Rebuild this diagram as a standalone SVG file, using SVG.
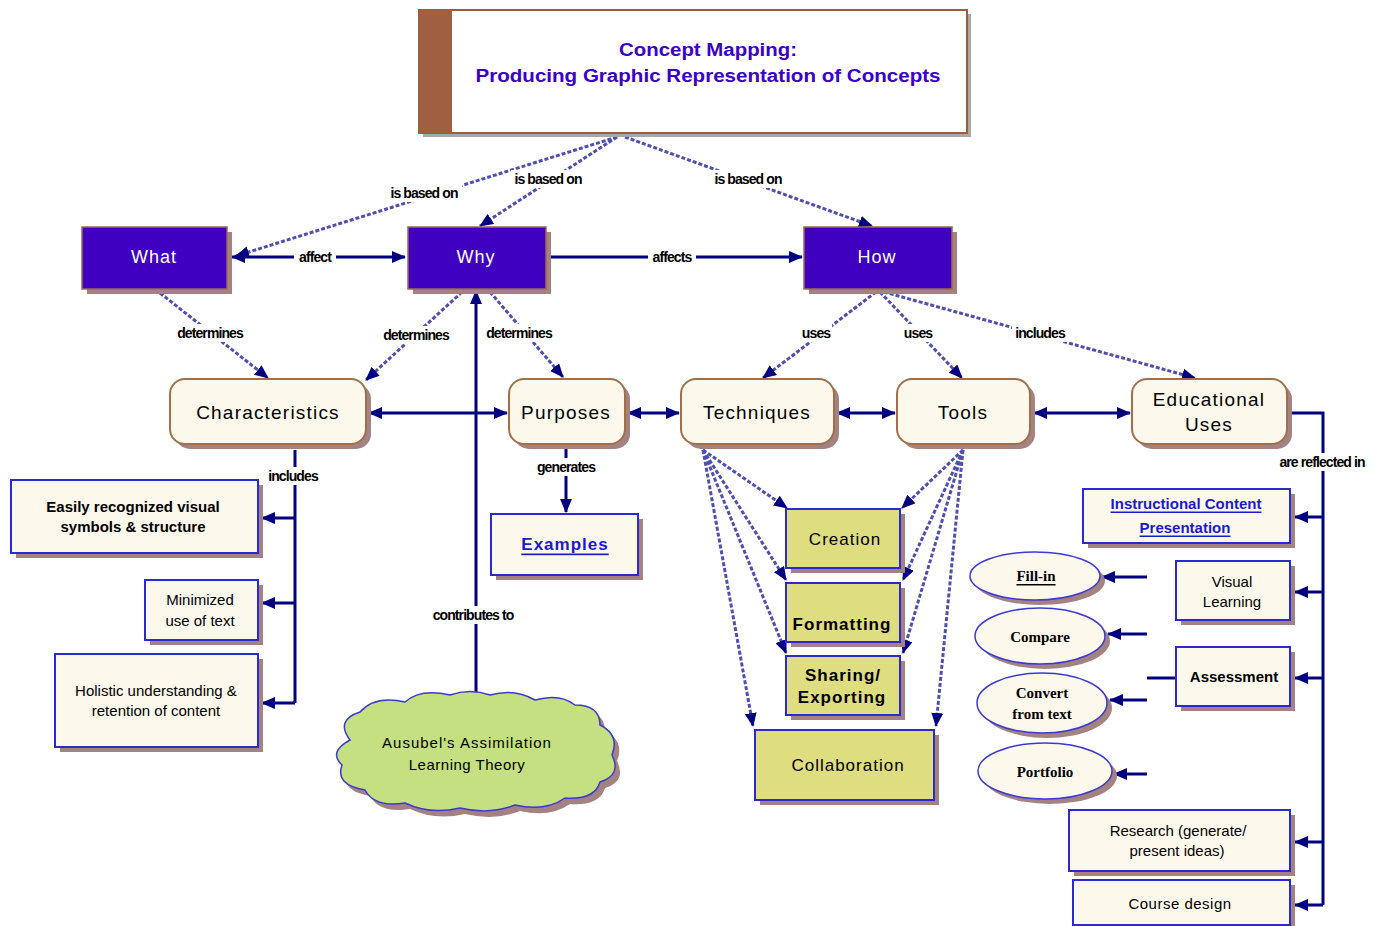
<svg xmlns="http://www.w3.org/2000/svg" width="1385" height="926" viewBox="0 0 1385 926">
  <style>
    .lbl { font-family: "Liberation Sans", Arial, sans-serif; font-size: 14px; font-weight: bold; fill: #000; text-anchor: middle; dominant-baseline: central; letter-spacing: -0.9px; }
    .lblbg { fill: #fff; }
    .dash { fill: none; stroke: #4f4fb0; stroke-width: 3; stroke-dasharray: 4 2; marker-end: url(#arr); }
    .solid { fill: none; stroke: #000080; stroke-width: 3; }
    .end { marker-end: url(#arr); }
    .both { marker-start: url(#arr); marker-end: url(#arr); }
    .shadow { fill: #a48282; }
    .purple { fill: #4000c0; stroke: #9a6a50; stroke-width: 1.5; }
    .wtxt { font-family: "Liberation Sans", Arial, sans-serif; font-size: 18px; fill: #fff; text-anchor: middle; dominant-baseline: central; letter-spacing: 1px; }
    .round { fill: #fdf8ec; stroke: #a0704a; stroke-width: 2; }
    .cream { fill: #fdf8ec; stroke: #2a2ad0; stroke-width: 2; }
    .khaki { fill: #dedd80; stroke: #2a2ad0; stroke-width: 2; }
    .t19 { font-family: "Liberation Sans", Arial, sans-serif; font-size: 19px; fill: #000; text-anchor: middle; dominant-baseline: central; letter-spacing: 1.2px; }
    .t17 { font-family: "Liberation Sans", Arial, sans-serif; font-size: 17px; fill: #000; text-anchor: middle; dominant-baseline: central; letter-spacing: 1px; }
    .t15 { font-family: "Liberation Sans", Arial, sans-serif; font-size: 15px; fill: #000; text-anchor: middle; dominant-baseline: central; }
    .heavy { font-weight: bold; }
    .link { fill: #1a1acc; text-decoration: underline; font-weight: bold; }
    .serif { font-family: "Liberation Serif", "Times New Roman", serif; font-size: 15px; font-weight: bold; fill: #000; text-anchor: middle; dominant-baseline: central; }
    .oval { fill: #fdf8ec; stroke: #3a3ad0; stroke-width: 1.5; }
    .title { font-family: "Liberation Sans", Arial, sans-serif; font-size: 18px; font-weight: bold; fill: #3a00c8; text-anchor: middle; dominant-baseline: central; }
  </style>
  <defs>
    <marker id="arr" viewBox="0 0 14 12" markerWidth="14" markerHeight="12" refX="13" refY="6" orient="auto-start-reverse" markerUnits="userSpaceOnUse">
      <path d="M0,0 L14,6 L0,12 z" fill="#000080"/>
    </marker>
    <path id="cloud" d="M350,740 Q335,720 360,712 Q375,695 405,702 Q420,688 450,695 Q470,688 490,695 Q515,688 535,700 Q560,693 575,705 Q600,705 600,725 Q620,735 612,755 Q622,775 600,782 Q595,800 565,798 Q545,812 515,805 Q490,815 460,808 Q430,815 405,803 Q375,808 365,790 Q335,785 342,765 Q328,752 350,740 Z"/>
  </defs>
  <rect width="1385" height="926" fill="#fff"/>

  <!-- connectors -->
  <g id="connectors">
    <!-- dashed "is based on", "determines", "uses", "includes" links -->
    <path class="dash" d="M617,137 L236,256"/>
    <path class="dash" d="M617,137 L480,226"/>
    <path class="dash" d="M625,137 L872,226"/>
    <path class="dash" d="M160,293 L268,378"/>
    <path class="dash" d="M462,292 L366,380"/>
    <path class="dash" d="M490,292 L563,377"/>
    <path class="dash" d="M876,292 L763,378"/>
    <path class="dash" d="M880,292 L962,378"/>
    <path class="dash" d="M884,292 L1195,378"/>
    <!-- technique / tool fans -->
    <path class="dash" d="M703,450 L787,508"/>
    <path class="dash" d="M703,450 L786,580"/>
    <path class="dash" d="M703,450 L786,653"/>
    <path class="dash" d="M703,450 L753,726"/>
    <path class="dash" d="M963,450 L902,508"/>
    <path class="dash" d="M963,450 L903,580"/>
    <path class="dash" d="M963,450 L903,653"/>
    <path class="dash" d="M963,450 L936,726"/>

    <!-- solid links -->
    <path class="solid both" d="M232,257 L405,257"/>
    <path class="solid end" d="M549,257 L802,257"/>
    <path class="solid end" d="M476,695 L476,291"/>
    <path class="solid both" d="M369,413 L507,413"/>
    <path class="solid both" d="M628,413 L679,413"/>
    <path class="solid both" d="M837,413 L895,413"/>
    <path class="solid both" d="M1034,413 L1130,413"/>

    <path class="solid" d="M295,450 L295,703"/>
    <path class="solid end" d="M295,518 L262,518"/>
    <path class="solid end" d="M295,603 L262,603"/>
    <path class="solid end" d="M295,703 L262,703"/>

    <path class="solid end" d="M566,448 L566,512"/>

    <path class="solid" d="M1290,413 L1323,413 L1323,905"/>
    <path class="solid end" d="M1323,517 L1295,517"/>
    <path class="solid end" d="M1323,592 L1295,592"/>
    <path class="solid end" d="M1323,678 L1295,678"/>
    <path class="solid end" d="M1323,842 L1295,842"/>
    <path class="solid end" d="M1323,905 L1295,905"/>

    <path class="solid end" d="M1147,577 L1102,577"/>
    <path class="solid end" d="M1147,634 L1108,634"/>
    <path class="solid" d="M1147,678 L1176,678"/>
    <path class="solid end" d="M1147,700 L1110,700"/>
    <path class="solid end" d="M1147,774 L1114,774"/>

    <!-- link labels -->
    <rect class="lblbg" x="387" y="184" width="75" height="18"/>
    <text class="lbl" x="424" y="193">is based on</text>
    <rect class="lblbg" x="511" y="170" width="75" height="18"/>
    <text class="lbl" x="548" y="179">is based on</text>
    <rect class="lblbg" x="711" y="170" width="75" height="18"/>
    <text class="lbl" x="748" y="179">is based on</text>
    <rect class="lblbg" x="294" y="249" width="42" height="16"/>
    <text class="lbl" x="315" y="257">affect</text>
    <rect class="lblbg" x="648" y="249" width="48" height="16"/>
    <text class="lbl" x="672" y="257">affects</text>
    <rect class="lblbg" x="174" y="324" width="72" height="18"/>
    <text class="lbl" x="210" y="333">determines</text>
    <rect class="lblbg" x="380" y="326" width="72" height="18"/>
    <text class="lbl" x="416" y="335">determines</text>
    <rect class="lblbg" x="483" y="324" width="72" height="18"/>
    <text class="lbl" x="519" y="333">determines</text>
    <rect class="lblbg" x="800" y="324" width="32" height="18"/>
    <text class="lbl" x="816" y="333">uses</text>
    <rect class="lblbg" x="902" y="324" width="32" height="18"/>
    <text class="lbl" x="918" y="333">uses</text>
    <rect class="lblbg" x="1012" y="324" width="56" height="18"/>
    <text class="lbl" x="1040" y="333">includes</text>
    <rect class="lblbg" x="265" y="467" width="56" height="18"/>
    <text class="lbl" x="293" y="476">includes</text>
    <rect class="lblbg" x="533" y="458" width="66" height="18"/>
    <text class="lbl" x="566" y="467">generates</text>
    <rect class="lblbg" x="426" y="606" width="94" height="18"/>
    <text class="lbl" x="473" y="615">contributes to</text>
    <rect class="lblbg" x="1273" y="453" width="100" height="18"/>
    <text class="lbl" x="1322" y="462">are reflected in</text>
  </g>

  <!-- title -->
  <g id="title">
    <rect x="423" y="14" width="548" height="123" fill="#a8a8a8"/>
    <rect x="419" y="10" width="548" height="123" fill="#fff" stroke="#a05a3c" stroke-width="2"/>
    <rect x="419" y="10" width="33" height="123" fill="#a05f40"/>
    <text class="title" x="708" y="50" textLength="178" lengthAdjust="spacingAndGlyphs">Concept Mapping:</text>
    <text class="title" x="708" y="76" textLength="465" lengthAdjust="spacingAndGlyphs">Producing Graphic Representation of Concepts</text>
  </g>

  <!-- what / why / how -->
  <g id="what">
    <rect class="shadow" x="87" y="232" width="145" height="62"/>
    <rect class="purple" x="82" y="227" width="145" height="62"/>
    <text class="wtxt" x="154" y="257">What</text>
  </g>
  <g id="why">
    <rect class="shadow" x="413" y="232" width="138" height="62"/>
    <rect class="purple" x="408" y="227" width="138" height="62"/>
    <text class="wtxt" x="476" y="257">Why</text>
  </g>
  <g id="how">
    <rect class="shadow" x="809" y="232" width="148" height="62"/>
    <rect class="purple" x="804" y="227" width="148" height="62"/>
    <text class="wtxt" x="877" y="257">How</text>
  </g>

  <!-- second row -->
  <g id="characteristics">
    <rect class="shadow" x="175" y="384" width="196" height="65" rx="15"/>
    <rect class="round" x="170" y="379" width="196" height="65" rx="15"/>
    <text class="t19" x="268" y="412">Characteristics</text>
  </g>
  <g id="purposes">
    <rect class="shadow" x="514" y="384" width="116" height="65" rx="15"/>
    <rect class="round" x="509" y="379" width="116" height="65" rx="15"/>
    <text class="t19" x="566" y="412">Purposes</text>
  </g>
  <g id="techniques">
    <rect class="shadow" x="686" y="384" width="153" height="65" rx="15"/>
    <rect class="round" x="681" y="379" width="153" height="65" rx="15"/>
    <text class="t19" x="757" y="412">Techniques</text>
  </g>
  <g id="tools">
    <rect class="shadow" x="902" y="384" width="133" height="65" rx="15"/>
    <rect class="round" x="897" y="379" width="133" height="65" rx="15"/>
    <text class="t19" x="963" y="412">Tools</text>
  </g>
  <g id="educational-uses">
    <rect class="shadow" x="1137" y="384" width="155" height="65" rx="15"/>
    <rect class="round" x="1132" y="379" width="155" height="65" rx="15"/>
    <text class="t19" x="1209" y="399">Educational</text>
    <text class="t19" x="1209" y="424">Uses</text>
  </g>

  <!-- characteristics list -->
  <g id="easily-recognized">
    <rect class="shadow" x="16" y="485" width="247" height="73"/>
    <rect class="cream" x="11" y="480" width="247" height="73"/>
    <text class="t15 heavy" x="133" y="506">Easily recognized visual</text>
    <text class="t15 heavy" x="133" y="526">symbols &amp; structure</text>
  </g>
  <g id="minimized-text">
    <rect class="shadow" x="150" y="585" width="113" height="60"/>
    <rect class="cream" x="145" y="580" width="113" height="60"/>
    <text class="t15" x="200" y="599">Minimized</text>
    <text class="t15" x="200" y="620">use of text</text>
  </g>
  <g id="holistic">
    <rect class="shadow" x="60" y="659" width="203" height="93"/>
    <rect class="cream" x="55" y="654" width="203" height="93"/>
    <text class="t15" x="156" y="690">Holistic understanding &amp;</text>
    <text class="t15" x="156" y="710">retention of content</text>
  </g>

  <!-- examples -->
  <g id="examples">
    <rect class="shadow" x="496" y="519" width="147" height="61"/>
    <rect class="cream" x="491" y="514" width="147" height="61"/>
    <text class="t17 link" x="565" y="544" font-size="18">Examples</text>
  </g>

  <!-- theory cloud -->
  <g id="ausubel">
    <use href="#cloud" transform="translate(5,6)" class="shadow"/>
    <use href="#cloud" fill="#c4e080" stroke="#3a3ad0" stroke-width="1.5"/>
    <text class="t15" x="467" y="742" font-size="16" letter-spacing="1">Ausubel's  Assimilation</text>
    <text class="t15" x="467" y="764" font-size="16" letter-spacing="0.5">Learning Theory</text>
  </g>

  <!-- technique/tool targets -->
  <g id="creation">
    <rect class="shadow" x="791" y="514" width="114" height="59"/>
    <rect class="khaki" x="786" y="509" width="114" height="59"/>
    <text class="t17" x="845" y="539">Creation</text>
  </g>
  <g id="formatting">
    <rect class="shadow" x="791" y="588" width="114" height="59"/>
    <rect class="khaki" x="786" y="583" width="114" height="59"/>
    <text class="t17 heavy" x="842" y="624">Formatting</text>
  </g>
  <g id="sharing-exporting">
    <rect class="shadow" x="791" y="661" width="114" height="59"/>
    <rect class="khaki" x="786" y="656" width="114" height="59"/>
    <text class="t17 heavy" x="843" y="675">Sharing/</text>
    <text class="t17 heavy" x="842" y="697">Exporting</text>
  </g>
  <g id="collaboration">
    <rect class="shadow" x="760" y="735" width="179" height="70"/>
    <rect class="khaki" x="755" y="730" width="179" height="70"/>
    <text class="t17" x="848" y="765">Collaboration</text>
  </g>

  <!-- educational uses list -->
  <g id="instructional-content">
    <rect class="shadow" x="1088" y="494" width="207" height="54"/>
    <rect class="cream" x="1083" y="489" width="207" height="54"/>
    <text class="t15 link" x="1186" y="503">Instructional Content</text>
    <text class="t15 link" x="1185" y="527">Presentation</text>
  </g>
  <g id="visual-learning">
    <rect class="shadow" x="1181" y="566" width="114" height="59"/>
    <rect class="cream" x="1176" y="561" width="114" height="59"/>
    <text class="t15" x="1232" y="581" font-size="16">Visual</text>
    <text class="t15" x="1232" y="601" font-size="16">Learning</text>
  </g>
  <g id="assessment">
    <rect class="shadow" x="1181" y="652" width="114" height="59"/>
    <rect class="cream" x="1176" y="647" width="114" height="59"/>
    <text class="t15 heavy" x="1234" y="676">Assessment</text>
  </g>
  <g id="research">
    <rect class="shadow" x="1074" y="815" width="221" height="61"/>
    <rect class="cream" x="1069" y="810" width="221" height="61"/>
    <text class="t15" x="1178" y="830" font-size="16">Research (generate/</text>
    <text class="t15" x="1177" y="850" font-size="16">present ideas)</text>
  </g>
  <g id="course-design">
    <rect class="shadow" x="1078" y="885" width="217" height="45"/>
    <rect class="cream" x="1073" y="880" width="217" height="45"/>
    <text class="t15" x="1180" y="903" font-size="16" letter-spacing="0.5">Course design</text>
  </g>

  <!-- assessment forms -->
  <g id="fill-in">
    <ellipse class="shadow" cx="1040" cy="581" rx="65" ry="24"/>
    <ellipse class="oval" cx="1035" cy="576" rx="65" ry="24"/>
    <text class="serif link" x="1036" y="576">Fill-in</text>
  </g>
  <g id="compare">
    <ellipse class="shadow" cx="1045" cy="641" rx="65" ry="28"/>
    <ellipse class="oval" cx="1040" cy="636" rx="65" ry="28"/>
    <text class="serif" x="1040" y="637">Compare</text>
  </g>
  <g id="convert-from-text">
    <ellipse class="shadow" cx="1047" cy="708" rx="65" ry="30"/>
    <ellipse class="oval" cx="1042" cy="703" rx="65" ry="30"/>
    <text class="serif" x="1042" y="693">Convert</text>
    <text class="serif" x="1042" y="714">from text</text>
  </g>
  <g id="portfolio">
    <ellipse class="shadow" cx="1050" cy="776" rx="67" ry="28"/>
    <ellipse class="oval" cx="1045" cy="771" rx="67" ry="28"/>
    <text class="serif" x="1045" y="772">Portfolio</text>
  </g>
</svg>
